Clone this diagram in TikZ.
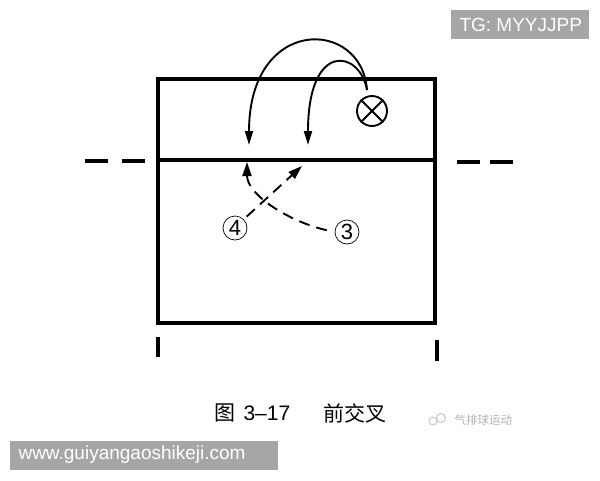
\documentclass[tikz,border=0pt]{standalone}
\usepackage{fontspec}
\setmainfont{Liberation Sans}
\newfontfamily\cjk{Noto Sans CJK SC}
\usetikzlibrary{arrows.meta}
\tikzset{
  court/.style={line width=3.8pt},
  tickmark/.style={line width=3.8pt},
  runpath/.style={line width=1.9pt,-{Triangle[length=14pt,width=8pt]}},
  dashpath/.style={line width=1.9pt,dash pattern=on 11pt off 7pt,-{Triangle[length=14pt,width=9pt]}},
  player/.style={circle,draw,line width=0.7pt,minimum size=24pt,inner sep=0pt,font=\fontsize{22}{22}\selectfont},
  markbox/.style={fill=black!35,text=white,inner sep=0pt}
}
\begin{document}
\begin{tikzpicture}[x=1pt,y=-1pt]
\useasboundingbox (0,0) rectangle (600,480);
\fill[white] (0,0) rectangle (600,480);

% court
\draw[court] (158,79) rectangle (435,323);
\draw[court] (158,160) -- (435,160);
% net extension dashes
\draw[tickmark] (85,161) -- (108,161);
\draw[tickmark] (122,161) -- (145,161);
\draw[tickmark] (457,162) -- (480,162);
\draw[tickmark] (490,162) -- (513,162);
% bottom ticks
\draw[tickmark] (158,337) -- (158,357);
\draw[tickmark] (437,340) -- (437,361);

% ball
\node[circle,draw,line width=1.9pt,minimum size=30pt,inner sep=0pt] (ball) at (372,111) {};
\draw[line width=1.9pt] (ball.north east) -- (ball.south west);
\draw[line width=1.9pt] (ball.north west) -- (ball.south east);

\coordinate (s1) at (367,90);
\coordinate (t1) at (249,145);
\coordinate (t2) at (308,145);
\draw[runpath] (s1) .. controls (362,18) and (249,15) .. (t1);
\draw[runpath] (s1) .. controls (360,50) and (308,40) .. (t2);

% players
\node[player] (p4) at (235,228) {4};
\node[player] (p3) at (347,232) {3};
\coordinate (t3) at (302,166);
\coordinate (t4) at (247,162);
\draw[dashpath,shorten <=4pt] (p4.north east) -- (t3);
\draw[dashpath,shorten <=8pt] (p3.west) .. controls (290,222) and (247,195) .. (t4);

% caption
\node[anchor=west,font=\cjk\fontsize{21}{21}\selectfont] (fig) at (211,413) {图};
\node[anchor=west,font=\fontsize{21}{21}\selectfont] (num) at (240,413) {3–17};
\node[anchor=west,font=\cjk\fontsize{21}{21}\selectfont] (title) at (320,413) {前交叉};

% watermark small
\draw[black!25,line width=0.8pt] (433,421) circle (4);
\draw[black!25,line width=0.8pt] (441,418) circle (4.5);
\node[anchor=west,text=black!30,font=\cjk\fontsize{11.5}{11.5}\selectfont] (wm) at (451,420) {气排球运动};

% corner labels
\fill[black!35] (451,10) rectangle (589,39);
\node[anchor=west,text=white,font=\fontsize{19}{19}\selectfont] (tg) at (456,25) {TG: MYYJJPP};
\fill[black!35] (10,441) rectangle (278,470);
\node[anchor=west,text=white,font=\fontsize{19}{19}\selectfont] (web) at (15,455) {www.guiyangaoshikeji.com};
\end{tikzpicture}
\end{document}
